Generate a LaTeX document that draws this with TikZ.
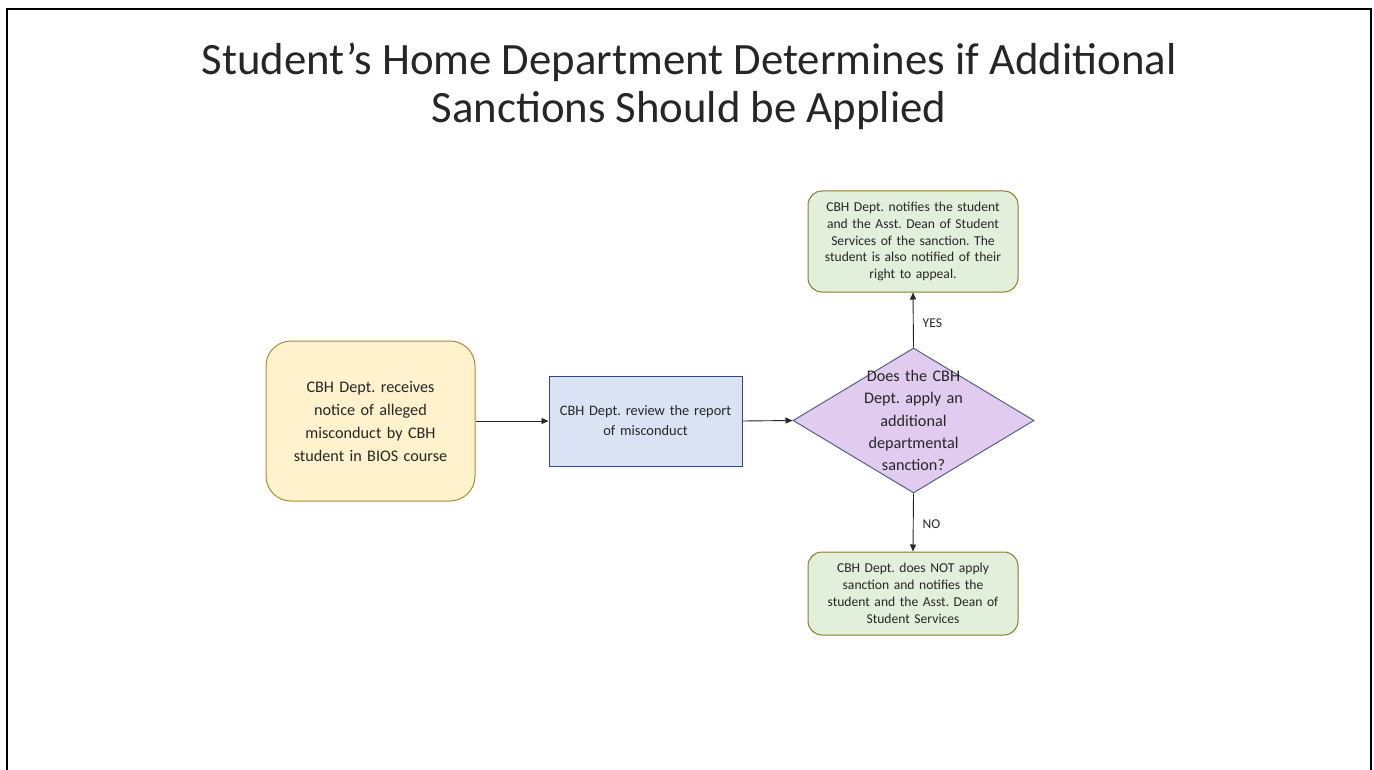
\documentclass[tikz,border=0pt]{standalone}
\usepackage{fontspec}
\setmainfont{Carlito}
\usetikzlibrary{shapes.geometric,arrows.meta}
\definecolor{yfill}{HTML}{FFF2CC}
\definecolor{ydraw}{HTML}{A88B3A}
\definecolor{bfill}{HTML}{DAE3F3}
\definecolor{bdraw}{HTML}{2F4A80}
\definecolor{pfill}{HTML}{E1CCF0}
\definecolor{pdraw}{HTML}{55608A}
\definecolor{gfill}{HTML}{E2EFDA}
\definecolor{gdraw}{HTML}{8A7A2A}
\definecolor{txt}{HTML}{262626}
\frenchspacing
\tikzset{
  startbox/.style={draw=ydraw,fill=yfill,line width=1pt,rounded corners=25pt,minimum width=209pt,minimum height=160pt,align=center,text width=180pt,font=\fontsize{16.2}{23}\selectfont,text=txt,inner sep=0pt},
  procbox/.style={draw=bdraw,fill=bfill,line width=1pt,minimum width=193pt,minimum height=90pt,align=center,text width=185pt,font=\fontsize{14.4}{20}\selectfont,text=txt,inner sep=0pt},
  decision/.style={diamond,draw=pdraw,fill=pfill,line width=1pt,minimum width=241pt,minimum height=145pt,inner sep=0pt},
  dtext/.style={align=center,text width=120pt,font=\fontsize{16.2}{22.2}\selectfont,text=txt,inner sep=0pt},
  endbox/.style={draw=gdraw,fill=gfill,line width=1pt,rounded corners=14pt,minimum width=210pt,align=center,text width=200pt,font=\fontsize{13.6}{16.8}\selectfont,text=txt,inner sep=0pt},
  arr/.style={-{Triangle[length=7pt,width=6pt]},line width=0.9pt,draw=black!85},
  lab/.style={font=\fontsize{13.5}{15}\selectfont,text=txt,inner sep=0pt,anchor=west},
  titletext/.style={align=center,font=\fontsize{44.8}{48}\selectfont,text=txt,inner sep=0pt}
}
\begin{document}
\begin{tikzpicture}[x=1pt,y=-1pt]
\useasboundingbox (0,0) rectangle (1374,770);
\begin{scope}
\clip (0,0) rectangle (1374,770);
\draw[line width=2pt,black] (7,9) rectangle (1371,790);
\end{scope}
\node[titletext] (title) at (689,86) {Student’s Home Department Determines if Additional\\Sanctions Should be Applied};
\node[startbox] (start) at (370.5,421) {CBH Dept. receives\\notice of alleged\\misconduct by CBH\\student in BIOS course};
\node[procbox] (review) at (645.5,421) {CBH Dept. review the report\\of misconduct};
\node[decision] (dec) at (913.5,420.5) {};
\node[dtext] (dectext) at (dec.center) {Does the CBH\\Dept. apply an\\additional\\departmental\\sanction?};
\node[endbox,minimum height=101pt] (yes) at (913,241.5) {CBH Dept. notifies the student\\and the Asst. Dean of Student\\Services of the sanction. The\\student is also notified of their\\right to appeal.};
\node[endbox,minimum height=83pt] (no) at (913,593.5) {CBH Dept. does NOT apply\\sanction and notifies the\\student and the Asst. Dean of\\Student Services};
\draw[arr] (start.east) -- (review.west);
\draw[arr] (review.east) -- (dec.west);
\draw[arr] (dec.north) -- (yes.south) node[lab,midway,xshift=9pt,yshift=-3pt] (yeslab) {YES};
\draw[arr] (dec.south) -- (no.north) node[lab,midway,xshift=9pt,yshift=-2pt] (nolab) {NO};
\end{tikzpicture}
\end{document}
